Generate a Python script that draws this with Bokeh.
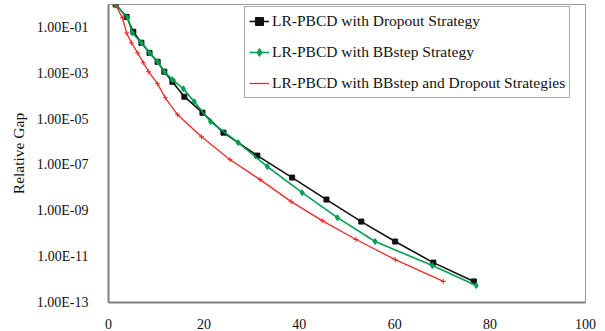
from bokeh.plotting import figure
from bokeh.models import FixedTicker, CustomJSTickFormatter, Range1d, Legend, LegendItem, AllLabels
from bokeh.embed import file_html
from bokeh.resources import INLINE

# Data (iterations vs relative gap)
dropout_x = [1.5, 3.8, 5.2, 6.9, 8.6, 10.3, 11.7, 13.4, 15.9, 19.7, 24.1, 31.2, 38.5, 45.7, 53.0, 60.1, 68.1, 76.6]
dropout_log = [0.0, -0.54, -1.19, -1.67, -2.11, -2.50, -2.93, -3.37, -4.02, -4.72, -5.59, -6.59, -7.55, -8.51, -9.47, -10.34, -11.26, -12.08]

bbstep_x = [1.5, 4.0, 5.0, 6.9, 8.6, 10.3, 11.7, 13.4, 15.7, 18.0, 21.4, 27.2, 33.3, 40.6, 48.0, 55.9, 67.9, 77.1]
bbstep_log = [0.0, -0.58, -1.24, -1.67, -2.11, -2.50, -2.93, -3.28, -3.68, -4.24, -5.11, -6.03, -7.07, -8.21, -9.30, -10.34, -11.39, -12.26]

both_x = [1.5, 2.9, 3.8, 4.8, 6.1, 7.3, 8.4, 10.3, 11.9, 14.5, 19.5, 25.5, 31.8, 38.3, 44.8, 51.9, 60.1, 70.2]
both_log = [-0.03, -0.58, -1.24, -1.67, -2.11, -2.54, -2.93, -3.46, -4.07, -4.81, -5.77, -6.77, -7.64, -8.60, -9.43, -10.25, -11.13, -12.08]

labels = ["LR-PBCD with Dropout Strategy",
          "LR-PBCD with BBstep Strategy",
          "LR-PBCD with BBstep and Dropout Strategies"]
x_ticks = [0, 20, 40, 60, 80, 100]
y_tick_exps = [-13, -11, -9, -7, -5, -3, -1]

dropout_y = [10 ** v for v in dropout_log]
bbstep_y = [10 ** v for v in bbstep_log]
both_y = [10 ** v for v in both_log]

FONT = "'Liberation Serif', 'Times New Roman', serif"

p = figure(width=605, height=331, output_backend="svg", toolbar_location=None,
           y_axis_type="log", x_range=Range1d(0, 100.001), y_range=Range1d(1e-13, 1e0),
           min_border_left=108, min_border_right=20, min_border_top=4, min_border_bottom=28)

p.xgrid.visible = False
p.ygrid.visible = False
p.outline_line_color = "#9a9a9a"
p.outline_line_width = 1

p.xaxis.ticker = FixedTicker(ticks=x_ticks)
p.yaxis.ticker = FixedTicker(ticks=[10.0 ** e for e in y_tick_exps])
p.yaxis.formatter = CustomJSTickFormatter(code="""
const e = Math.round(Math.log10(tick));
const s = Math.abs(e).toString().padStart(2, '0');
return "1.00E" + (e < 0 ? "-" : "+") + s;
""")
for ax in (p.xaxis, p.yaxis):
    ax.major_tick_line_color = None
    ax.minor_tick_line_color = None
    ax.axis_line_color = "#808080"
    ax.axis_line_width = 2
    ax.major_label_text_font = FONT
    ax.major_label_text_font_size = "14px"
    ax.major_label_text_color = "#111111"
    ax.axis_label_text_font = FONT
    ax.axis_label_text_font_style = "normal"
    ax.axis_label_text_font_size = "15.5px"
    ax.axis_label_text_color = "#111111"
    ax.major_label_policy = AllLabels()
p.yaxis.major_label_standoff = 14
p.xaxis.major_label_standoff = 10
p.yaxis.axis_label = "Relative Gap"
p.yaxis.axis_label_standoff = 7

l1 = p.line(dropout_x, dropout_y, line_color="#111111", line_width=1.6)
m1 = p.scatter(dropout_x, dropout_y, marker="square", size=5, fill_color="#111111", line_color="#111111")
l2 = p.line(bbstep_x, bbstep_y, line_color="#00A050", line_width=1.6)
m2 = p.scatter(bbstep_x, bbstep_y, marker="diamond", size=6, fill_color="#00A050", line_color="#00A050")
l3 = p.line(both_x, both_y, line_color="#F02828", line_width=1.3)
m3 = p.scatter(both_x, both_y, marker="cross", size=5, line_color="#F02828", line_width=1)

legend = Legend(items=[LegendItem(label=labels[0], renderers=[l1, m1]),
                       LegendItem(label=labels[1], renderers=[l2, m2]),
                       LegendItem(label=labels[2], renderers=[l3])],
                location=(136, 204))
legend.label_text_font = FONT
legend.label_text_font_size = "15.5px"
legend.label_text_color = "#111111"
legend.glyph_width = 20
legend.glyph_height = 20
legend.label_height = 20
legend.label_standoff = 3
legend.spacing = 11
legend.padding = 4
legend.margin = 0
legend.border_line_color = "#555555"
legend.border_line_width = 1
legend.background_fill_alpha = 1
p.add_layout(legend, "center")

open("out.html", "w").write(file_html(p, INLINE))
